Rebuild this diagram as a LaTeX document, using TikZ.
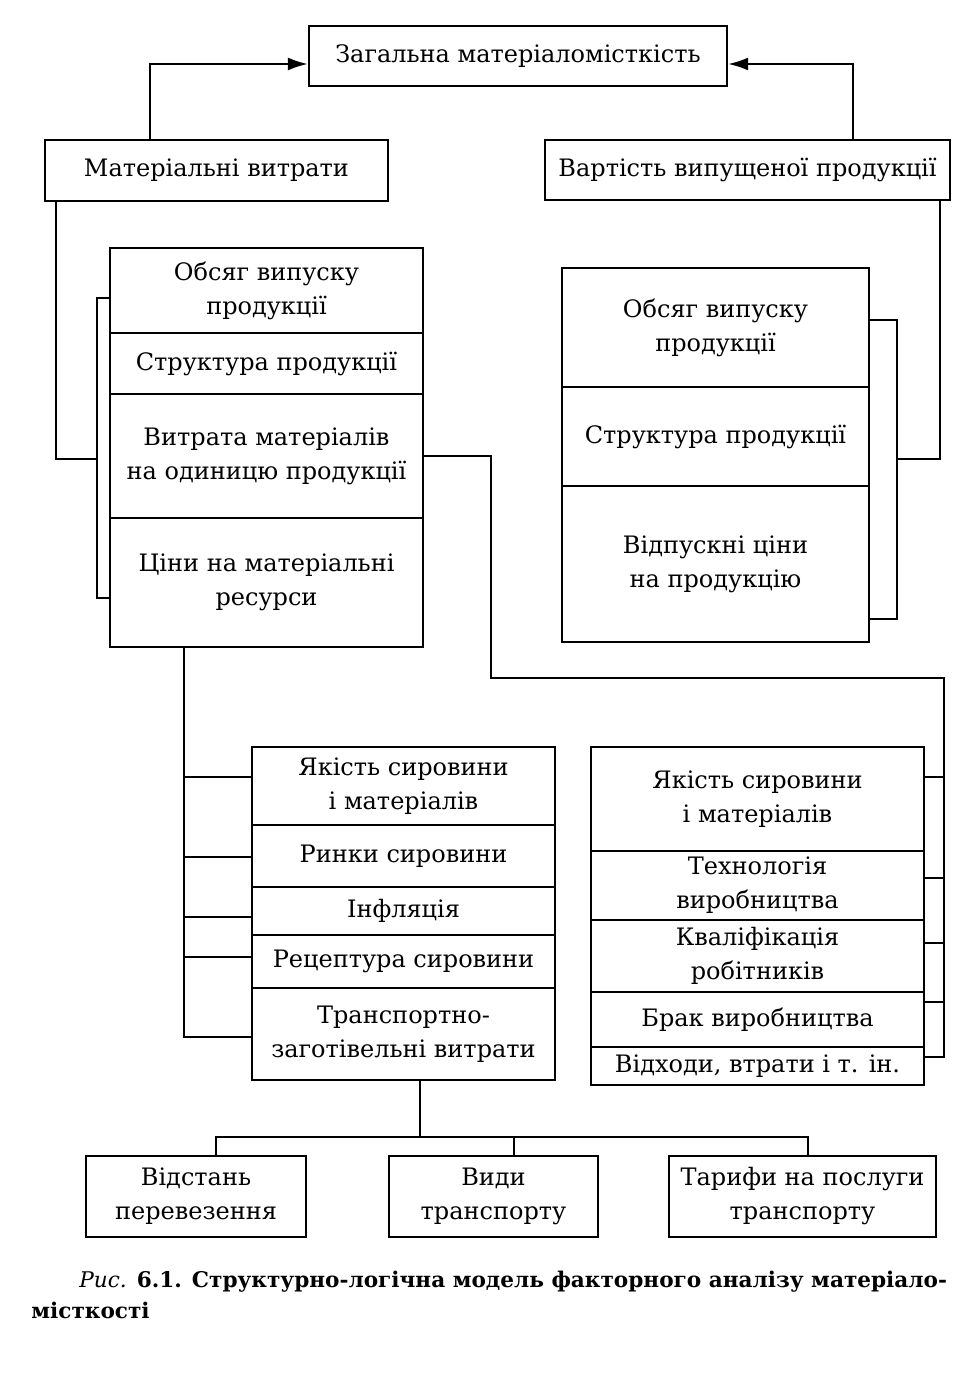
\documentclass[tikz,border=0pt]{standalone}
\usepackage{fontspec}
\setmainfont{DejaVu Serif}
\usetikzlibrary{arrows.meta}
\tikzset{
  cellbox/.style = {draw, line width = 1.1pt, inner sep = 0pt, align = center,
    font = \fontsize{12}{17}\selectfont},
  link/.style = {line width = 1.1pt},
  arrowlink/.style = {link, -{Latex[length = 10pt, width = 6.5pt]}}
}
\newcommand{\cell}[6]{%
% name, left, top, right, bottom, text
  \pgfmathsetmacro{\cx}{(#2+#4)/2}
  \pgfmathsetmacro{\cy}{(#3+#5)/2}
  \pgfmathsetmacro{\cw}{(#4-#2)/2}
  \pgfmathsetmacro{\ch}{(#5-#3)/2}
  \node[cellbox, minimum width = \cw pt, minimum height = \ch pt]
    (#1) at (\cx,\cy) {#6};
}

\begin{document}
\begin{tikzpicture}[x = 0.5pt, y = -0.5pt]
  \useasboundingbox (0,0) rectangle (973,1375);
  % upper level
  \cell{total}{309}{26}{727}{86}{Загальна матеріаломісткість}
  \cell{matcost}{45}{140}{388}{201}{Матеріальні витрати}
  \cell{outval}{545}{140}{950}{200}{Вартість випущеної продукції}
  \draw[arrowlink] (matcost.north -| 150,0) |- ([yshift = -4pt]total.west);
  \draw[arrowlink] (outval.north -| 853,0) |- ([yshift = -4pt]total.east);
  % left stack
  \cell{lvol}{110}{248}{423}{333}{Обсяг випуску\\продукції}
  \cell{lstr}{110}{333}{423}{394}{Структура продукції}
  \cell{lnorm}{110}{394}{423}{518}{Витрата матеріалів\\на одиницю продукції}
  \cell{lprice}{110}{518}{423}{647}{Ціни на матеріальні\\ресурси}
  \draw[link] (matcost.south -| 56,0) |- (97,459);
  \draw[link] (lvol.west |- 0,298) -| (97,598) -- (lprice.west |- 0,598);
  % right stack
  \cell{rvol}{562}{268}{869}{387}{Обсяг випуску\\продукції}
  \cell{rstr}{562}{387}{869}{486}{Структура продукції}
  \cell{rprice}{562}{486}{869}{642}{Відпускні ціни\\на продукцію}
  \draw[link] (outval.south -| 940,0) |- (897,459);
  \draw[link] (rvol.east |- 0,320) -| (897,619) -- (rprice.east |- 0,619);
  % price factors
  \cell{qual}{252}{747}{555}{825}{Якість сировини\\і матеріалів}
  \cell{mark}{252}{825}{555}{887}{Ринки сировини}
  \cell{infl}{252}{887}{555}{935}{Інфляція}
  \cell{recp}{252}{935}{555}{988}{Рецептура сировини}
  \cell{trans}{252}{988}{555}{1080}{Транспортно-\\заготівельні витрати}
  \draw[link] (lprice.south -| 184,0) |- (trans.west |- 0,1037);
  \foreach \n/\y in {qual/777, mark/857, infl/917, recp/957}
    \draw[link] (184,\y) -- (\n.west |- 0,\y);
  % norm factors
  \cell{qualb}{591}{747}{924}{851}{Якість сировини\\і матеріалів}
  \cell{tech}{591}{851}{924}{920}{Технологія\\виробництва}
  \cell{skill}{591}{920}{924}{992}{Кваліфікація\\робітників}
  \cell{scrap}{591}{992}{924}{1047}{Брак виробництва}
  \cell{waste}{591}{1047}{924}{1085}{Відходи, втрати і т. ін.}
  \draw[link] (lnorm.east) -| (491,678) -| (944,1057) -- (waste.east |- 0,1057);
  \foreach \n/\y in {qualb/777, tech/878, skill/943, scrap/1002}
    \draw[link] (\n.east |- 0,\y) -- (944,\y);
  % transport factors
  \cell{dist}{86}{1156}{306}{1237}{Відстань\\перевезення}
  \cell{kind}{389}{1156}{598}{1237}{Види\\транспорту}
  \cell{tariff}{669}{1156}{936}{1237}{Тарифи на послуги\\транспорту}
  \draw[link] (trans.south -| 420,0) -- (420,1137);
  \draw[link] (dist.north -| 216,0) -- (216,1137) -- (808,1137)
    -- (tariff.north -| 808,0);
  \draw[link] (kind.north -| 514,0) -- (514,1137);
  % caption
  \node[anchor = base west, inner sep = 0pt,
    font = \fontsize{10.8}{15}\selectfont\bfseries] (capa) at (79,1287)
    {{\mdseries\itshape Рис.} 6.1. Структурно-логічна модель факторного аналізу матеріало-};
  \node[anchor = base west, inner sep = 0pt,
    font = \fontsize{10.8}{15}\selectfont\bfseries] (capb) at (31,1318) {місткості};
\end{tikzpicture}
\end{document}
